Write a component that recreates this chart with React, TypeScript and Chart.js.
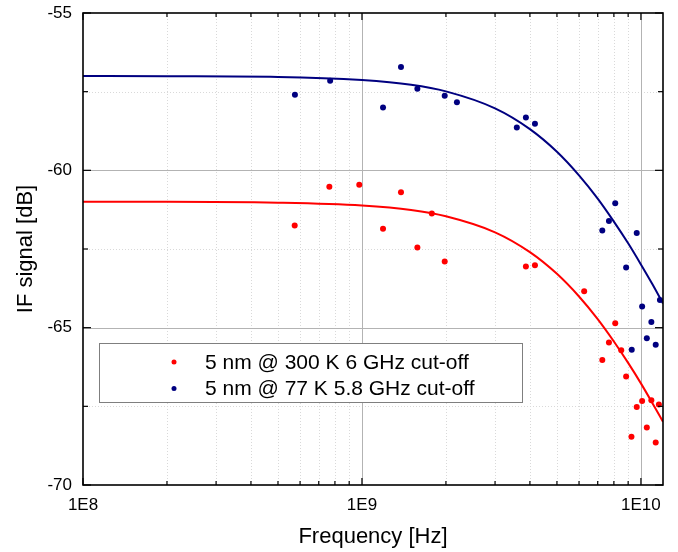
import React, { useEffect, useRef } from 'react';
import { Chart, registerables } from 'chart.js';

Chart.register(...registerables);

// ---- data ----
const redFreq = [5.74e8, 7.64e8, 9.78e8, 1.19e9, 1.38e9, 1.58e9, 1.78e9, 1.98e9, 3.87e9, 4.17e9, 6.26e9, 7.27e9, 7.68e9, 8.09e9, 8.5e9, 8.85e9, 9.25e9, 9.66e9, 1.01e10, 1.05e10, 1.09e10, 1.13e10, 1.16e10];
const redSignal = [-61.75, -60.52, -60.46, -61.86, -60.70, -62.45, -61.37, -62.90, -63.06, -63.02, -63.84, -66.03, -65.47, -64.86, -65.72, -66.55, -68.47, -67.52, -67.33, -68.17, -67.31, -68.65, -67.44];

const blueFreq = [5.75e8, 7.69e8, 1.19e9, 1.38e9, 1.58e9, 1.98e9, 2.19e9, 3.59e9, 3.87e9, 4.17e9, 7.27e9, 7.68e9, 8.09e9, 8.85e9, 9.27e9, 9.66e9, 1.01e10, 1.05e10, 1.09e10, 1.13e10, 1.17e10];
const blueSignal = [-57.60, -57.15, -58.00, -56.72, -57.41, -57.63, -57.84, -58.64, -58.32, -58.52, -61.91, -61.61, -61.05, -63.09, -65.70, -61.99, -64.33, -65.34, -64.82, -65.54, -64.12];

const fitFreq = [1e8, 2e8, 5e8, 1e9, 1.5e9, 2e9, 3e9, 4e9, 5e9, 6e9, 7e9, 8e9, 9e9, 1e10, 1.1e10, 1.2e10];
const redFit = [-61.00, -61.00, -61.03, -61.12, -61.26, -61.46, -61.97, -62.60, -63.29, -64.01, -64.73, -65.44, -66.12, -66.77, -67.40, -67.99];
const blueFit = [-57.00, -57.01, -57.03, -57.13, -57.28, -57.49, -58.03, -58.69, -59.41, -60.16, -60.90, -61.63, -62.32, -62.99, -63.62, -64.23];

const legendLabels = ['5 nm @ 300 K 6 GHz cut-off', '5 nm @ 77 K 5.8 GHz cut-off'];

const xMajorTicks = [1e8, 1e9, 1e10];
const xMinorTicks = [2e8, 3e8, 4e8, 5e8, 6e8, 7e8, 8e8, 9e8, 2e9, 3e9, 4e9, 5e9, 6e9, 7e9, 8e9, 9e9];
const xTickLabels = ['1E8', '1E9', '1E10'];
const yMajorTicks = [-70, -65, -60, -55];
const yMinorTicks = [-67.5, -62.5, -57.5];

const RED = '#ff0000';
const BLUE = '#000080';
const FONT = "'Liberation Sans', Arial, sans-serif";

const toPoints = (xs: number[], ys: number[]) => xs.map((x, i) => ({ x, y: ys[i] }));

const framePlugin = {
  id: 'framePlugin',
  beforeDatasetsDraw(chart: any) {
    const { ctx, chartArea: a, scales } = chart;
    const x = scales.x, y = scales.y;
    ctx.save();
    ctx.lineWidth = 1;
    ctx.strokeStyle = '#d9d9d9';
    ctx.setLineDash([1, 2]);
    xMinorTicks.forEach((f) => {
      const px = Math.round(x.getPixelForValue(f)) + 0.5;
      ctx.beginPath(); ctx.moveTo(px, a.top); ctx.lineTo(px, a.bottom); ctx.stroke();
    });
    yMinorTicks.forEach((v) => {
      const py = Math.round(y.getPixelForValue(v)) + 0.5;
      ctx.beginPath(); ctx.moveTo(a.left, py); ctx.lineTo(a.right, py); ctx.stroke();
    });
    ctx.setLineDash([]);
    ctx.strokeStyle = '#b3b3b3';
    xMajorTicks.forEach((f) => {
      const px = Math.round(x.getPixelForValue(f)) + 0.5;
      if (px <= a.left + 1 || px >= a.right - 1) return;
      ctx.beginPath(); ctx.moveTo(px, a.top); ctx.lineTo(px, a.bottom); ctx.stroke();
    });
    yMajorTicks.forEach((v) => {
      const py = Math.round(y.getPixelForValue(v)) + 0.5;
      if (py <= a.top + 1 || py >= a.bottom - 1) return;
      ctx.beginPath(); ctx.moveTo(a.left, py); ctx.lineTo(a.right, py); ctx.stroke();
    });
    ctx.restore();
  },
  afterDatasetsDraw(chart: any) {
    const { ctx, chartArea: a, scales } = chart;
    const x = scales.x, y = scales.y;
    ctx.save();
    ctx.strokeStyle = '#000';
    ctx.lineWidth = 1.2;
    const tick = (x1: number, y1: number, x2: number, y2: number) => {
      ctx.beginPath(); ctx.moveTo(x1, y1); ctx.lineTo(x2, y2); ctx.stroke();
    };
    xMajorTicks.forEach((f) => {
      const px = x.getPixelForValue(f);
      tick(px, a.bottom, px, a.bottom - 7);
      tick(px, a.top, px, a.top + 7);
    });
    xMinorTicks.forEach((f) => {
      const px = x.getPixelForValue(f);
      tick(px, a.bottom, px, a.bottom - 4);
      tick(px, a.top, px, a.top + 4);
    });
    yMajorTicks.forEach((v) => {
      const py = y.getPixelForValue(v);
      tick(a.left, py, a.left + 8, py);
      tick(a.right, py, a.right - 8, py);
    });
    yMinorTicks.forEach((v) => {
      const py = y.getPixelForValue(v);
      tick(a.left, py, a.left + 5, py);
      tick(a.right, py, a.right - 5, py);
    });
    ctx.lineWidth = 1.6;
    ctx.strokeRect(a.left, a.top, a.right - a.left, a.bottom - a.top);
    ctx.restore();
  },
  afterDraw(chart: any) {
    const { ctx } = chart;
    ctx.save();
    ctx.fillStyle = '#ffffff';
    ctx.strokeStyle = '#7f7f7f';
    ctx.lineWidth = 1;
    ctx.fillRect(99.5, 343.5, 423, 59);
    ctx.strokeRect(99.5, 343.5, 423, 59);
    const colors = [chart.data.datasets[0].backgroundColor, chart.data.datasets[1].backgroundColor];
    const ys = [362, 388.5];
    ctx.font = `21px ${FONT}`;
    ctx.textBaseline = 'middle';
    ctx.textAlign = 'left';
    legendLabels.forEach((label, i) => {
      ctx.fillStyle = colors[i];
      ctx.beginPath(); ctx.arc(174, ys[i], 2.5, 0, Math.PI * 2); ctx.fill();
      ctx.fillStyle = '#000';
      ctx.fillText(label, 205, ys[i] + 1);
    });
    ctx.restore();
  },
};

export default function App() {
  const canvasRef = useRef<HTMLCanvasElement | null>(null);

  useEffect(() => {
    if (!canvasRef.current) return;
    Chart.defaults.font.family = FONT;
    const chart = new Chart(canvasRef.current, {
      type: 'scatter',
      data: {
        datasets: [
          {
            label: legendLabels[0],
            data: toPoints(redFreq, redSignal),
            backgroundColor: RED,
            borderColor: RED,
            pointRadius: 3,
            pointBorderWidth: 0,
          },
          {
            label: legendLabels[1],
            data: toPoints(blueFreq, blueSignal),
            backgroundColor: BLUE,
            borderColor: BLUE,
            pointRadius: 3,
            pointBorderWidth: 0,
          },
          {
            label: 'fit 300 K',
            data: toPoints(fitFreq, redFit),
            showLine: true,
            borderColor: RED,
            backgroundColor: RED,
            borderWidth: 2,
            pointRadius: 0,
            cubicInterpolationMode: 'monotone',
          },
          {
            label: 'fit 77 K',
            data: toPoints(fitFreq, blueFit),
            showLine: true,
            borderColor: BLUE,
            backgroundColor: BLUE,
            borderWidth: 2,
            pointRadius: 0,
            cubicInterpolationMode: 'monotone',
          },
        ],
      } as any,
      options: {
        animation: false,
        responsive: false,
        maintainAspectRatio: false,
        layout: { padding: { top: 13, right: 15, left: 0, bottom: 0 } },
        plugins: { legend: { display: false }, tooltip: { enabled: false } },
        scales: {
          x: {
            type: 'logarithmic',
            min: 1e8,
            max: 1.2e10,
            grid: { display: false, drawTicks: false },
            border: { display: false },
            afterFit: (s: any) => { s.height = 67; s.paddingLeft = 0; s.paddingRight = 0; },
            afterBuildTicks: (s: any) => {
              s.ticks = xMajorTicks.map((v) => ({ value: v }));
            },
            ticks: {
              autoSkip: false,
              maxRotation: 0,
              padding: 10,
              color: '#000',
              font: { size: 17 },
              callback: (v: any) => {
                const i = xMajorTicks.indexOf(Number(v));
                return i >= 0 ? xTickLabels[i] : '';
              },
            },
            title: {
              display: true,
              text: 'Frequency [Hz]',
              color: '#000',
              font: { size: 22 },
              padding: { top: 0, bottom: 2 },
            },
          },
          y: {
            type: 'linear',
            min: -70,
            max: -55,
            grid: { display: false, drawTicks: false },
            border: { display: false },
            afterFit: (s: any) => { s.width = 83; s.paddingTop = 0; s.paddingBottom = 0; },
            afterBuildTicks: (s: any) => {
              s.ticks = yMajorTicks.map((v) => ({ value: v }));
            },
            ticks: {
              padding: 11,
              color: '#000',
              font: { size: 17 },
              callback: (v: any) => String(v),
            },
            title: {
              display: true,
              text: 'IF signal [dB]',
              color: '#000',
              font: { size: 22 },
              padding: { top: 13, bottom: 0 },
            },
          },
        },
      } as any,
      plugins: [framePlugin],
    });
    return () => chart.destroy();
  }, []);

  return (
    <div style={{ position: 'fixed', left: 0, top: 0, width: 678, height: 552, background: '#fff' }}>
      <canvas ref={canvasRef} width={678} height={552} style={{ display: 'block' }} />
    </div>
  );
}
